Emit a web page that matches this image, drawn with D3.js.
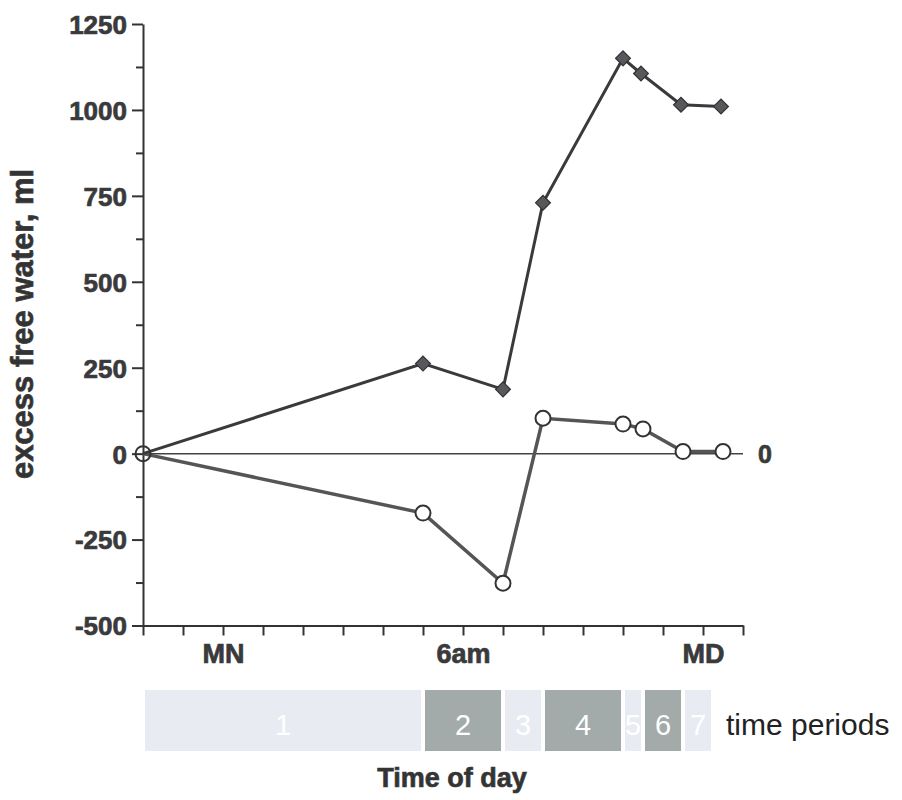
<!DOCTYPE html>
<html lang="en">
<head>
<meta charset="UTF-8">
<title>Excess free water</title>
<script src="https://d3js.org/d3.v7.min.js"></script>
<style>
    body { margin: 0; background: #fff; }
    svg text { font-family: "Liberation Sans", Arial, sans-serif; }
    svg text.heavy { stroke: #3a3a3c; stroke-width: 0.7px; }
</style>
</head>
<body>
<div id="chart"></div>
<script>
    // hours relative to midnight (-2 = 10pm, 12 = midday)
    var diamondHours = [-2, 5, 7, 8, 10, 10.45, 11.45, 12.45];
    var diamondValues = [0, 262, 187, 730, 1150, 1106, 1015, 1010];
    var circleHours = [-2, 5, 7, 8, 10, 10.5, 11.5, 12.5];
    var circleValues = [0, -173, -377, 103, 86, 72, 6, 6];

    var yMajorTicks = [-500, -250, 0, 250, 500, 750, 1000, 1250];
    var yMinorTicks = [-375, -125, 125, 375, 625, 875, 1125];
    var xTicks = d3.range(-2, 14);
    var xTickLabels = { 0: "MN", 6: "6am", 12: "MD" };

    var periodLabels = ["1", "2", "3", "4", "5", "6", "7"];
    var periodStarts = [-2, 5, 7, 8, 10, 10.5, 11.5];
    var periodEnds = [5, 7, 8, 10, 10.5, 11.5, 12.25];

    var width = 902, height = 800;
    var svg = d3.select("#chart").append("svg")
        .attr("width", width)
        .attr("height", height);

    var x = d3.scaleLinear().domain([-2, 13]).range([143, 743]);
    var y = d3.scaleLinear().domain([-500, 1250]).range([625.5, 24]);

    var ink = "#333";

    // y axis (major + minor)
    var yAxis = svg.append("g")
        .attr("transform", "translate(" + x(-2) + ",0)")
        .call(d3.axisLeft(y).tickValues(yMajorTicks).tickSize(11).tickSizeOuter(0).tickPadding(5)
            .tickFormat(function (d) { return String(d); }));
    yAxis.select(".domain").attr("stroke", ink).attr("stroke-width", 2);
    yAxis.selectAll(".tick line").attr("stroke", ink).attr("stroke-width", 2);
    yAxis.selectAll(".tick text")
        .attr("class", "heavy")
        .attr("fill", "#3a3a3c")
        .style("font-size", "26px")
        .style("font-weight", "bold")
        .attr("dy", "0.36em");

    svg.append("g")
        .attr("transform", "translate(" + x(-2) + ",0)")
        .call(d3.axisLeft(y).tickValues(yMinorTicks).tickSize(7).tickFormat(""))
        .call(g => g.select(".domain").remove())
        .selectAll(".tick line").attr("stroke", ink).attr("stroke-width", 2);

    // x axis
    var xAxis = svg.append("g")
        .attr("transform", "translate(0," + y(-500) + ")")
        .call(d3.axisBottom(x).tickValues(xTicks).tickSize(10).tickSizeOuter(0).tickPadding(8)
            .tickFormat(function (d) { return xTickLabels[d] || ""; }));
    xAxis.select(".domain").attr("stroke", ink).attr("stroke-width", 2);
    xAxis.selectAll(".tick line").attr("stroke", ink).attr("stroke-width", 2);
    xAxis.selectAll(".tick text")
        .attr("class", "heavy")
        .attr("fill", "#3a3a3c")
        .style("font-size", "27px")
        .style("font-weight", "bold");

    // zero reference line
    svg.append("line")
        .attr("x1", x(-2)).attr("x2", x(13))
        .attr("y1", y(0)).attr("y2", y(0))
        .attr("stroke", "#444").attr("stroke-width", 1.5);
    svg.append("text")
        .attr("class", "heavy")
        .attr("x", x(13) + 15).attr("y", y(0) + 9)
        .attr("fill", "#3a3a3c")
        .style("font-size", "25px").style("font-weight", "bold")
        .text("0");

    var line = d3.line()
        .x(function (d) { return x(d[0]); })
        .y(function (d) { return y(d[1]); });

    var diamondData = d3.zip(diamondHours, diamondValues);
    var circleData = d3.zip(circleHours, circleValues);

    svg.append("path")
        .datum(circleData)
        .attr("d", line)
        .attr("fill", "none")
        .attr("stroke", "#555")
        .attr("stroke-width", 3.5);

    svg.append("path")
        .datum(diamondData)
        .attr("d", line)
        .attr("fill", "none")
        .attr("stroke", "#3a3a3e")
        .attr("stroke-width", 3);

    var diamond = d3.symbol().type(d3.symbolSquare).size(110);
    svg.selectAll(".diamond")
        .data(diamondData.slice(1))
        .enter().append("path")
        .attr("class", "diamond")
        .attr("d", diamond)
        .attr("transform", function (d) { return "translate(" + x(d[0]) + "," + y(d[1]) + ") rotate(45)"; })
        .attr("fill", "#58585c")
        .attr("stroke", "#333")
        .attr("stroke-width", 1.2);

    svg.selectAll(".circle")
        .data(circleData)
        .enter().append("circle")
        .attr("class", "circle")
        .attr("cx", function (d) { return x(d[0]); })
        .attr("cy", function (d) { return y(d[1]); })
        .attr("r", 7.5)
        .attr("fill", function (d, i) { return i === 0 ? "none" : "#fff"; })
        .attr("stroke", "#333")
        .attr("stroke-width", 2);

    // y label
    svg.append("text")
        .attr("class", "heavy")
        .attr("transform", "translate(33,324) rotate(-90)")
        .attr("text-anchor", "middle")
        .attr("fill", ink)
        .style("font-size", "31px").style("font-weight", "bold")
        .text("excess free water, ml");

    // time periods strip
    var periods = svg.append("g");
    periodLabels.forEach(function (lab, i) {
        var x0 = x(periodStarts[i]) + 2;
        var w = x(periodEnds[i]) - x(periodStarts[i]) - 4;
        periods.append("rect")
            .attr("x", x0).attr("y", 690)
            .attr("width", w).attr("height", 61)
            .attr("fill", i % 2 === 0 ? "#e9ebf3" : "#a2abaa");
        periods.append("text")
            .attr("x", x0 + w / 2).attr("y", 735)
            .attr("text-anchor", "middle")
            .attr("fill", "#fff")
            .style("font-size", "29px")
            .text(lab);
    });
    svg.append("text")
        .attr("x", 726).attr("y", 735)
        .attr("fill", "#222")
        .style("font-size", "30px")
        .text("time periods");

    svg.append("text")
        .attr("class", "heavy")
        .attr("x", 452).attr("y", 787)
        .attr("text-anchor", "middle")
        .attr("fill", ink)
        .style("font-size", "27px").style("font-weight", "bold")
        .text("Time of day");
</script>
</body>
</html>
